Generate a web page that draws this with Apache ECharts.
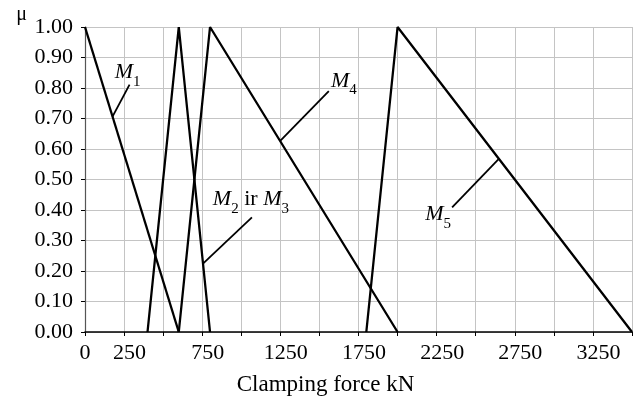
<!DOCTYPE html>
<html>
<head>
<meta charset="utf-8">
<script src="https://cdn.jsdelivr.net/npm/echarts@6/dist/echarts.min.js"></script>
<style>
html,body{margin:0;padding:0;background:#fff;}
#c{width:637px;height:407px;}
</style>
</head>
<body>
<div id="c"></div>
<script>
// ---- data ----
var xTickLabels = [0, 250, 750, 1250, 1750, 2250, 2750, 3250];
var m1 = [[0, 1], [600, 0]];
var m23 = [[400, 0], [600, 1], [800, 0]];
var m4 = [[600, 0], [800, 1], [2000, 0]];
var m5 = [[1800, 0], [2000, 1], [3500, 0]];
// leader lines: [point on curve, outer end]
var leaderM1 = [[176, 0.706], [285, 0.811]];
var leaderM23 = [[755, 0.224], [1068, 0.376]];
var leaderM4 = [[1249, 0.627], [1560, 0.790]];
var leaderM5 = [[2648, 0.568], [2349, 0.409]];

var FONT = 'Liberation Serif';
var rich = {
  m: {fontFamily: FONT, fontStyle: 'italic', fontSize: 22, lineHeight: 22, color: '#000'},
  s: {fontFamily: FONT, fontSize: 15, lineHeight: 14, padding: [13, 0, 0, 0], verticalAlign: 'top', color: '#000'},
  r: {fontFamily: FONT, fontSize: 22, lineHeight: 22, color: '#000'}
};

function leader(pts, text, offset) {
  return {
    type: 'line',
    data: [
      {value: pts[0]},
      {value: pts[1], label: {show: true, position: 'inside', offset: offset, formatter: text, rich: rich}}
    ],
    symbol: 'circle',
    symbolSize: 0,
    showSymbol: true,
    silent: true,
    lineStyle: {color: '#000', width: 1.8},
    label: {show: false},
    z: 3
  };
}

function curve(d) {
  return {
    type: 'line',
    data: d,
    symbol: 'none',
    lineStyle: {color: '#000', width: 2.3},
    z: 4
  };
}

var chart = echarts.init(document.getElementById('c'), null, {renderer: 'canvas'});
chart.setOption({
  animation: false,
  backgroundColor: '#fff',
  grid: {left: 85, right: 5, top: 27, bottom: 75, containLabel: false},
  xAxis: {
    type: 'value',
    min: 0, max: 3500, interval: 250,
    name: 'Clamping force kN',
    nameLocation: 'middle',
    nameGap: 41,
    nameTextStyle: {fontFamily: FONT, fontSize: 23, color: '#000', padding: [0, 66, 0, 0]},
    axisLine: {show: true, onZero: false, lineStyle: {color: '#000', width: 1.5}},
    axisTick: {show: true, length: 4, lineStyle: {color: '#000'}},
    axisLabel: {
      margin: 10,
      fontFamily: FONT, fontSize: 22, color: '#000',
      hideOverlap: false,
      showMaxLabel: true, showMinLabel: true,
      formatter: function (v) {
        if (xTickLabels.indexOf(v) < 0) return '';
        if (v === 0) return '0';
        return '{p|' + v + '}';
      },
      rich: {p: {fontFamily: FONT, fontSize: 22, color: '#000', padding: [0, 0, 0, 11]}}
    },
    splitLine: {show: true, lineStyle: {color: '#c4c4c4', width: 1}}
  },
  yAxis: {
    type: 'value',
    min: 0, max: 1, interval: 0.1,
    name: 'μ',
    nameLocation: 'end',
    nameGap: 12,
    nameTextStyle: {fontFamily: FONT, fontSize: 20, color: '#000', align: 'right', verticalAlign: 'middle', padding: [0, 58, 0, 0]},
    axisLine: {show: true, lineStyle: {color: '#555', width: 1.2}},
    axisTick: {show: true, length: 4, lineStyle: {color: '#000'}},
    axisLabel: {
      margin: 12,
      fontFamily: FONT, fontSize: 22, color: '#000',
      formatter: function (v) { return v.toFixed(2); }
    },
    splitLine: {show: true, lineStyle: {color: '#c4c4c4', width: 1}}
  },
  series: [
    curve(m1), curve(m23), curve(m4), curve(m5),
    leader(leaderM1, '{m|M}{s|1}', [-2, -12]),
    leader(leaderM23, '{m|M}{s|2}{r| ir }{m|M}{s|3}', [-1, -18]),
    leader(leaderM4, '{m|M}{s|4}', [15, -10]),
    leader(leaderM5, '{m|M}{s|5}', [-14, 7])
  ]
});
</script>
</body>
</html>
